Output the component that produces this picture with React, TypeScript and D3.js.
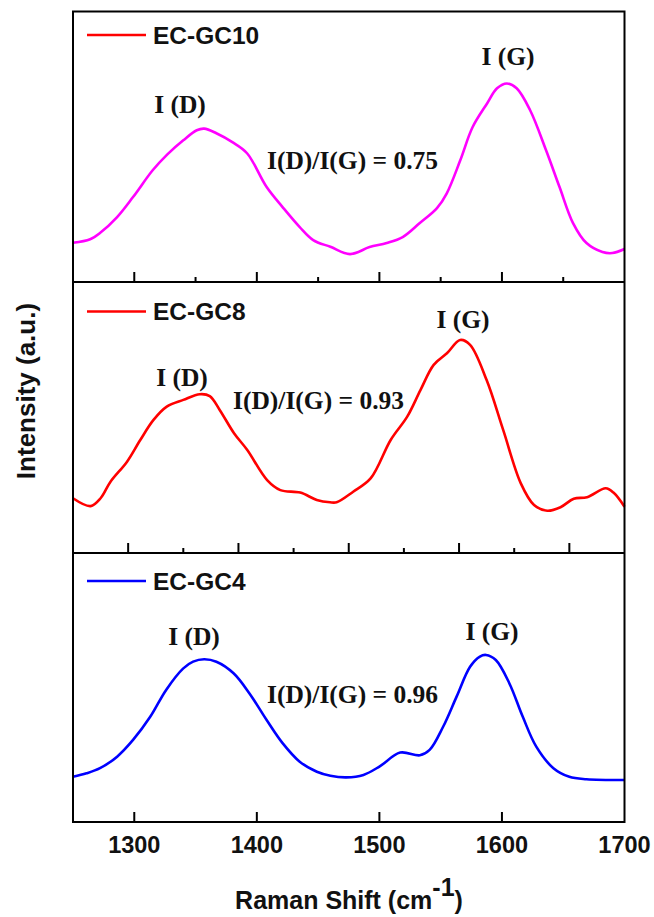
import React from "react";
import * as d3 from "d3";

// ---------- data ----------
const gc10Shift = [1250, 1264, 1272, 1286, 1299, 1315, 1327, 1340, 1351, 1357, 1367, 1380, 1392, 1408, 1421, 1435, 1446, 1460, 1476, 1492, 1506, 1519, 1533, 1547, 1555, 1566, 1576, 1588, 1596, 1604, 1612, 1623, 1636, 1647, 1658, 1669, 1682, 1690, 1700];
const gc10Intensity = [14.5, 15.8, 18.1, 24.0, 31.4, 41.3, 47.2, 52.4, 56.1, 56.7, 55.0, 51.7, 47.6, 35.1, 27.7, 20.3, 15.5, 13.0, 10.3, 12.9, 14.4, 16.6, 21.8, 27.3, 32.8, 45.0, 57.2, 66.1, 71.6, 73.4, 71.6, 63.5, 48.7, 35.1, 21.8, 14.4, 11.1, 10.7, 12.2];

const gc8Shift = [1250, 1266, 1275, 1284, 1299, 1311, 1323, 1335, 1350, 1365, 1374, 1383, 1396, 1408, 1426, 1438, 1456, 1471, 1483, 1489, 1504, 1520, 1538, 1553, 1565, 1577, 1589, 1601, 1610, 1625, 1640, 1656, 1668, 1680, 1692, 1704, 1716, 1733, 1740, 1750];
const gc8Intensity = [20.2, 17.3, 20.2, 26.3, 33.7, 41.7, 49.1, 54.0, 56.5, 58.6, 57.9, 52.8, 44.2, 38.0, 26.9, 23.2, 22.3, 19.6, 18.7, 18.7, 22.6, 27.6, 41.7, 50.3, 60.1, 69.4, 73.7, 78.6, 76.8, 63.8, 45.4, 25.7, 17.7, 15.6, 16.9, 20.0, 20.6, 23.9, 22.3, 17.1];

const gc4Shift = [1250, 1261, 1272, 1286, 1299, 1313, 1326, 1340, 1348, 1357, 1367, 1381, 1394, 1408, 1421, 1435, 1449, 1460, 1473, 1487, 1500, 1517, 1533, 1541, 1552, 1563, 1574, 1582, 1587, 1595, 1606, 1617, 1628, 1642, 1655, 1669, 1700];
const gc4Intensity = [16.8, 18.1, 20.0, 24.3, 30.5, 39.1, 49.1, 57.1, 59.6, 60.5, 59.6, 55.3, 47.8, 37.9, 29.3, 22.4, 18.7, 17.2, 16.6, 17.5, 20.6, 25.8, 24.8, 26.8, 35.4, 46.6, 57.7, 61.5, 62.1, 60.2, 51.6, 39.1, 28.0, 20.0, 16.8, 15.9, 15.6];

const sampleNames = ["EC-GC10", "EC-GC8", "EC-GC4"];
const ratioLabels = ["I(D)/I(G) = 0.75", "I(D)/I(G) = 0.93", "I(D)/I(G) = 0.96"];
const bottomTickLabels = [1300, 1400, 1500, 1600, 1700];

// ---------- layout ----------
const W = 654;
const H = 917;
const left = 73;
const right = 624.5;

type Panel = {
  top: number;
  bottom: number;
  domain: [number, number];
  shift: number[];
  intensity: number[];
  color: string;
  legendColor: string;
  name: string;
  ratio: string;
  majors: number[];
  minors: number[];
  dLabel: [number, number];
  gLabel: [number, number];
  ratioPos: [number, number];
  legendY: number;
};

const panels: Panel[] = [
  {
    top: 11.5, bottom: 282, domain: [1250, 1700],
    shift: gc10Shift, intensity: gc10Intensity,
    color: "#ff00ff", legendColor: "#ff0000", name: sampleNames[0], ratio: ratioLabels[0],
    majors: [1300, 1400, 1500, 1600], minors: [1350, 1450, 1550, 1650],
    dLabel: [180, 113], gLabel: [508, 65], ratioPos: [267, 169], legendY: 35,
  },
  {
    top: 282, bottom: 553, domain: [1250, 1750],
    shift: gc8Shift, intensity: gc8Intensity,
    color: "#ff0000", legendColor: "#ff0000", name: sampleNames[1], ratio: ratioLabels[1],
    majors: [1300, 1400, 1500, 1600, 1700], minors: [1350, 1450, 1550, 1650],
    dLabel: [182, 386], gLabel: [463, 328], ratioPos: [233, 409], legendY: 311.5,
  },
  {
    top: 553, bottom: 822, domain: [1250, 1700],
    shift: gc4Shift, intensity: gc4Intensity,
    color: "#0000ff", legendColor: "#0000ff", name: sampleNames[2], ratio: ratioLabels[2],
    majors: [1300, 1400, 1500, 1600], minors: [],
    dLabel: [194, 645], gLabel: [492, 640], ratioPos: [267, 703], legendY: 581,
  },
];

const sans = "'Liberation Sans', Arial, sans-serif";
const serif = "'Liberation Serif', 'Times New Roman', serif";

export default function App() {
  const xBottom = d3.scaleLinear().domain([1250, 1700]).range([left, right]);
  return (
    <svg
      width={W}
      height={H}
      viewBox={`0 0 ${W} ${H}`}
      style={{ position: "absolute", left: 0, top: 0, background: "#fff" }}
    >
      <rect x={0} y={0} width={W} height={H} fill="#fff" />
      {panels.map((p, i) => {
        const x = d3.scaleLinear().domain(p.domain).range([left, right]);
        const y = d3.scaleLinear().domain([0, 100]).range([p.bottom, p.top]);
        const pts = p.shift.map((s, k) => [s, p.intensity[k]] as [number, number]);
        const line = d3
          .line<[number, number]>()
          .x((d) => x(d[0]))
          .y((d) => y(d[1]))
          .curve(d3.curveCatmullRom.alpha(0.5));
        return (
          <g key={i}>
            <path d={line(pts) || ""} fill="none" stroke={p.color} strokeWidth={2.6} strokeLinejoin="round" />
            {p.majors.map((t) => (
              <line key={"M" + t} x1={x(t)} x2={x(t)} y1={p.bottom} y2={p.bottom - 10} stroke="#000" strokeWidth={2} />
            ))}
            {p.minors.map((t) => (
              <line key={"m" + t} x1={x(t)} x2={x(t)} y1={p.bottom} y2={p.bottom - 5} stroke="#000" strokeWidth={2} />
            ))}
            {/* legend */}
            <line x1={87} x2={146} y1={p.legendY} y2={p.legendY} stroke={p.legendColor} strokeWidth={2.6} />
            <text x={153} y={p.legendY + 8.5} fontFamily={sans} fontWeight="bold" fontSize={24.5} fill="#111">
              {p.name}
            </text>
            {/* annotations */}
            <text x={p.dLabel[0]} y={p.dLabel[1]} textAnchor="middle" fontFamily={serif} fontWeight="bold" fontSize={25.5} fill="#111">
              I (D)
            </text>
            <text x={p.gLabel[0]} y={p.gLabel[1]} textAnchor="middle" fontFamily={serif} fontWeight="bold" fontSize={25.5} fill="#111">
              I (G)
            </text>
            <text x={p.ratioPos[0]} y={p.ratioPos[1]} fontFamily={serif} fontWeight="bold" fontSize={25.5} fill="#111">
              {p.ratio}
            </text>
          </g>
        );
      })}
      {/* frame */}
      <rect x={left} y={11.5} width={right - left} height={822 - 11.5} fill="none" stroke="#000" strokeWidth={2} />
      <line x1={left} x2={right} y1={282} y2={282} stroke="#000" strokeWidth={2} />
      <line x1={left} x2={right} y1={553} y2={553} stroke="#000" strokeWidth={2} />
      {/* bottom axis labels */}
      {bottomTickLabels.map((t) => (
        <text key={t} x={xBottom(t)} y={853} textAnchor="middle" fontFamily={sans} fontWeight="bold" fontSize={23.5} fill="#111">
          {t}
        </text>
      ))}
      <text x={349} y={909} textAnchor="middle" fontFamily={sans} fontWeight="bold" fontSize={25} fill="#111">
        Raman Shift (cm<tspan dy={-13}>-1</tspan><tspan dy={13}>)</tspan>
      </text>
      <text
        transform="translate(35,391) rotate(-90)"
        textAnchor="middle"
        fontFamily={sans}
        fontWeight="bold"
        fontSize={26}
        fill="#111"
      >
        Intensity (a.u.)
      </text>
    </svg>
  );
}
